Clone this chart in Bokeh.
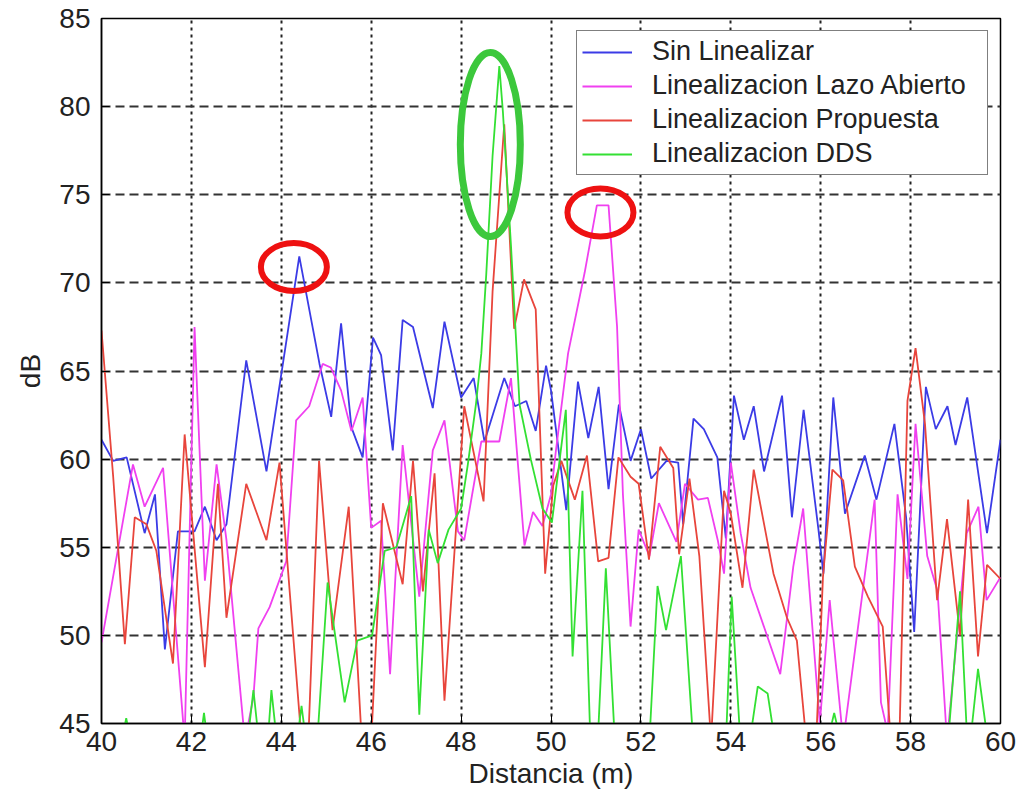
from bokeh.plotting import figure
from bokeh.models import Range1d, FixedTicker, Legend, LegendItem
from bokeh.embed import file_html
from bokeh.resources import INLINE

x_ticks = [40, 42, 44, 46, 48, 50, 52, 54, 56, 58, 60]
y_ticks = [45, 50, 55, 60, 65, 70, 75, 80, 85]

sin_x = [40.0, 40.26, 40.56, 40.96, 41.19, 41.41, 41.70, 42.07, 42.30, 42.56, 42.78, 43.22, 43.67, 44.40,
         44.85, 45.11, 45.33, 45.56, 45.81, 46.04, 46.22, 46.48, 46.70, 46.93, 47.37, 47.63, 48.00, 48.28,
         48.52, 48.96, 49.20, 49.45, 49.66, 49.89, 50.00, 50.34, 50.60, 50.83, 51.06, 51.28, 51.51, 51.77,
         52.00, 52.23, 52.57, 52.83, 52.94, 53.17, 53.40, 53.70, 53.89, 54.07, 54.29, 54.51, 54.74, 55.14,
         55.36, 55.62, 55.95, 56.06, 56.28, 56.54, 56.98, 57.24, 57.64, 57.90, 58.08, 58.34, 58.56, 58.82,
         59.00, 59.26, 59.70, 60.0]
sin_y = [61.1, 59.9, 60.1, 55.8, 58.0, 49.2, 55.9, 55.9, 57.3, 55.4, 56.3, 65.6, 59.3, 71.5,
         65.4, 62.4, 67.7, 61.8, 60.1, 66.9, 65.9, 60.5, 67.9, 67.5, 62.9, 67.8, 63.5, 64.6,
         61.0, 64.6, 63.0, 63.3, 61.6, 65.3, 63.9, 57.1, 64.4, 61.2, 64.1, 58.3, 63.1, 59.9,
         61.7, 58.9, 59.9, 59.8, 56.3, 62.3, 61.7, 60.1, 55.5, 63.6, 61.1, 63.0, 59.3, 63.6,
         56.7, 62.8, 56.0, 53.5, 63.5, 56.9, 60.2, 57.7, 62.0, 56.7, 50.2, 64.1, 61.7, 63.0,
         60.8, 63.5, 55.8, 61.1]

lazo_x = [40.0, 40.7, 40.96, 41.37, 41.85, 42.07, 42.3, 42.56, 42.78, 43.19, 43.38, 43.49, 43.74, 44.11,
          44.33, 44.62, 44.92, 45.1, 45.33, 45.56, 45.81, 46.0, 46.22, 46.42, 46.70, 47.07, 47.37, 47.63,
          47.93, 48.07, 48.45, 48.85, 49.11, 49.41, 49.6, 49.81, 50.0, 50.11, 50.38, 50.75, 51.02, 51.28,
          51.47, 51.6, 51.77, 51.95, 52.19, 52.4, 52.79, 52.98, 53.27, 53.49, 53.71, 53.85, 54.0, 54.22,
          54.44, 55.1, 55.39, 55.61, 55.98, 56.2, 56.5, 57.2, 57.34, 57.49, 57.71, 57.93, 58.11, 58.37,
          58.6, 58.81, 59.25, 59.51, 59.69, 60.0]
lazo_y = [49.6, 59.7, 57.3, 59.5, 44.0, 67.5, 53.1, 59.7, 55.4, 44.0, 46.5, 50.4, 51.6, 54.2,
          62.2, 63.0, 65.4, 65.2, 63.9, 61.6, 63.5, 56.1, 56.5, 47.8, 60.8, 52.2, 60.5, 62.2,
          55.9, 55.4, 61.0, 61.0, 64.6, 55.1, 57.0, 56.2, 58.0, 60.5, 66.0, 70.6, 74.4, 74.4,
          67.5, 58.0, 50.5, 56.0, 54.5, 57.5, 55.3, 58.6, 57.7, 57.8, 55.4, 53.5, 59.8, 55.8,
          52.7, 47.8, 53.9, 57.2, 45.0, 52.0, 44.0, 57.7, 46.2, 44.5, 58.0, 53.2, 62.0, 54.5,
          52.5, 44.0, 55.8, 57.3, 52.0, 53.3]

prop_x = [40.0, 40.26, 40.52, 40.74, 41.0, 41.22, 41.59, 41.85, 42.3, 42.59, 42.78, 43.22, 43.67, 43.96,
          44.45, 44.6, 44.84, 45.14, 45.5, 45.79, 46.0, 46.26, 46.70, 46.93, 47.15, 47.41, 47.63, 48.07,
          48.50, 48.70, 48.96, 49.18, 49.40, 49.66, 49.87, 50.05, 50.23, 50.53, 50.8, 51.05, 51.28, 51.5,
          51.77, 51.95, 52.18, 52.43, 52.72, 52.85, 53.08, 53.3, 53.56, 53.85, 54.0, 54.26, 54.51, 54.95,
          55.25, 55.47, 55.68, 55.9, 56.05, 56.26, 56.5, 56.76, 57.05, 57.38, 57.56, 57.75, 57.93, 58.11,
          58.32, 58.59, 58.81, 59.1, 59.28, 59.5, 59.7, 60.0]
prop_y = [67.3, 59.0, 49.5, 56.7, 56.3, 54.8, 48.4, 61.4, 48.2, 58.6, 51.0, 58.6, 55.4, 59.8,
          44.0, 44.0, 59.9, 50.3, 57.3, 44.0, 44.0, 57.5, 52.9, 59.9, 52.5, 59.2, 46.3, 63.0,
          57.6, 69.5, 79.0, 67.4, 70.2, 68.5, 53.5, 58.5, 59.9, 57.7, 60.2, 54.2, 54.4, 60.1,
          59.0, 58.6, 54.3, 60.7, 59.5, 54.6, 58.9, 54.5, 44.0, 58.2, 56.9, 52.7, 59.4, 53.5,
          51.0, 49.7, 44.0, 44.0, 53.3, 59.4, 58.8, 53.9, 52.2, 50.5, 44.0, 44.0, 63.3, 66.3,
          62.0, 52.0, 56.6, 50.0, 57.7, 48.8, 54.0, 53.2]

dds_x = [40.0, 40.45, 40.55, 40.65, 42.2, 42.28, 42.36, 43.25, 43.38, 43.5, 43.7, 43.78, 43.9, 44.35,
         44.45, 44.55, 44.8, 45.03, 45.41, 45.69, 46.02, 46.3, 46.56, 46.89, 47.07, 47.28, 47.48, 47.72,
         48.0, 48.15, 48.33, 48.45, 48.56, 48.7, 48.85, 48.93, 49.11, 49.3, 49.55, 49.81, 50.02, 50.33,
         50.48, 50.7, 50.87, 51.05, 51.22, 51.41, 52.2, 52.37, 52.56, 52.89, 53.15, 53.9, 54.02, 54.2,
         54.45, 54.6, 54.82, 54.95, 56.2, 56.3, 56.4, 58.85, 59.1, 59.25, 59.35, 59.5, 59.69, 60.0]
dds_y = [43.0, 44.0, 45.3, 44.0, 44.0, 45.6, 44.0, 44.0, 46.9, 44.0, 44.0, 46.9, 44.0, 44.0,
         46.0, 44.0, 44.0, 53.0, 46.2, 49.7, 50.0, 54.8, 55.0, 57.9, 45.5, 56.0, 54.1, 56.0,
         57.2, 59.7, 63.1, 66.0, 70.5, 77.2, 82.3, 79.7, 72.1, 63.1, 60.0, 57.2, 56.4, 62.8,
         48.8, 58.2, 44.5, 44.5, 53.8, 44.5, 44.5, 52.8, 50.3, 54.5, 44.5, 44.5, 52.2, 44.5,
         44.5, 47.1, 46.7, 44.5, 44.5, 45.6, 44.5, 44.5, 52.5, 44.5, 44.5, 48.1, 44.5, 44.0]

labels = ["Sin Linealizar", "Linealizacion Lazo Abierto", "Linealizacion Propuesta", "Linealizacion DDS"]
colors = ["#3b3be6", "#f040f0", "#e8453c", "#33e033"]

red_mark_x = [44.28, 51.10]
red_mark_y = [70.9, 74.0]
green_mark_x = [48.65]
green_mark_y = [77.85]

FONT = "Liberation Sans"

p = figure(width=1019, height=797, x_range=Range1d(40, 60), y_range=Range1d(45, 85),
           output_backend="svg", toolbar_location=None,
           min_border_left=101, min_border_right=19, min_border_top=18, min_border_bottom=74)
p.background_fill_color = "white"
p.border_fill_color = "white"
p.outline_line_color = "black"
p.outline_line_width = 1.5

for ax, ticks in ((p.xaxis[0], x_ticks), (p.yaxis[0], y_ticks)):
    ax.ticker = FixedTicker(ticks=ticks)
    ax.major_tick_in = 8
    ax.major_tick_out = 0
    ax.minor_tick_line_color = None
    ax.axis_line_color = "black"
    ax.axis_line_width = 1.5
    ax.major_tick_line_color = "black"
    ax.major_label_text_font = FONT
    ax.major_label_text_font_size = "28px"
    ax.major_label_text_color = "#222222"
    ax.axis_label_text_font = FONT
    ax.axis_label_text_font_size = "28px"
    ax.axis_label_text_font_style = "normal"
    ax.axis_label_text_color = "#222222"

p.xaxis.axis_label = "Distancia (m)"
p.yaxis.axis_label = "dB"
p.xaxis.major_label_standoff = 8
p.yaxis.major_label_standoff = 11
p.xaxis.axis_label_standoff = 4
p.yaxis.axis_label_standoff = 10

p.xgrid.ticker = FixedTicker(ticks=x_ticks)
p.ygrid.ticker = FixedTicker(ticks=y_ticks)
p.xgrid.grid_line_color = "#222222"
p.xgrid.grid_line_dash = "3 4"
p.xgrid.grid_line_width = 2
p.ygrid.grid_line_color = "#333333"
p.ygrid.grid_line_dash = "9 5"
p.ygrid.grid_line_width = 2

series = [(sin_x, sin_y), (lazo_x, lazo_y), (prop_x, prop_y), (dds_x, dds_y)]
renderers = []
for (xs, ys), c in zip(series, colors):
    renderers.append(p.line(xs, ys, line_color=c, line_width=1.8))

p.ellipse(x=red_mark_x, y=red_mark_y, width=66, height=48, width_units="screen", height_units="screen",
          fill_color=None, line_color="#ee1111", line_width=6)
p.ellipse(x=green_mark_x, y=green_mark_y, width=60, height=184, width_units="screen", height_units="screen",
          fill_color=None, line_color="#3cc83c", line_width=7)

legend = Legend(items=[LegendItem(label=l, renderers=[r]) for l, r in zip(labels, renderers)],
                location="top_right")
legend.label_text_font = FONT
legend.label_text_font_size = "27px"
legend.label_text_color = "#222222"
legend.border_line_color = "black"
legend.border_line_width = 1.5
legend.background_fill_alpha = 1.0
legend.glyph_width = 50
legend.glyph_height = 26
legend.label_height = 26
legend.label_width = 330
legend.spacing = 3
legend.padding = 5
legend.margin = 12
legend.label_standoff = 20
p.add_layout(legend)

open("out.html", "w").write(file_html(p, INLINE))
